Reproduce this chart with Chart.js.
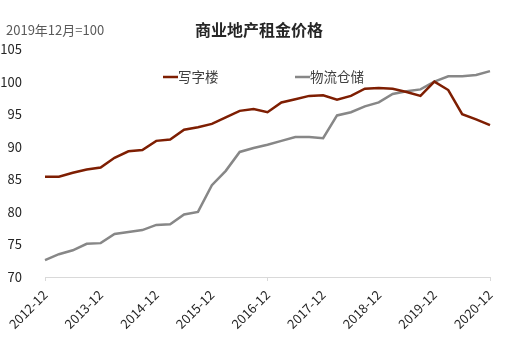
<!DOCTYPE html>
<html>
<head>
<meta charset="utf-8">
<script src="https://cdn.jsdelivr.net/npm/chart.js@4.4.0/dist/chart.umd.min.js"></script>
<style>
html,body{margin:0;padding:0;background:#fff;}
#wrap{position:relative;width:524px;height:346px;}
canvas{display:block;}
</style>
</head>
<body>
<div id="wrap"><canvas id="c" width="524" height="346"></canvas></div>
<script>
const categories = ["2012-12","2013-03","2013-06","2013-09","2013-12","2014-03","2014-06","2014-09","2014-12","2015-03","2015-06","2015-09","2015-12","2016-03","2016-06","2016-09","2016-12","2017-03","2017-06","2017-09","2017-12","2018-03","2018-06","2018-09","2018-12","2019-03","2019-06","2019-09","2019-12","2020-03","2020-06","2020-09","2020-12"];
const officeValues = [85.4,85.4,86.0,86.5,86.8,88.3,89.3,89.5,90.9,91.1,92.6,93.0,93.5,94.5,95.5,95.8,95.3,96.8,97.3,97.8,97.9,97.2,97.8,98.9,99.0,98.9,98.4,97.8,100.0,98.7,95.0,94.2,93.3];
const logisticsValues = [72.6,73.5,74.1,75.1,75.2,76.6,76.9,77.2,78.0,78.1,79.6,80.0,84.1,86.3,89.2,89.8,90.3,90.9,91.5,91.5,91.3,94.8,95.3,96.2,96.8,98.1,98.5,98.8,100.0,100.8,100.8,101.0,101.6];
const yTicks = [70,75,80,85,90,95,100,105];
const seriesNames = ["写字楼","物流仓储"];
const titleText = "商业地产租金价格";
const unitText = "2019年12月=100";

const FONT = "'Noto Sans CJK SC','Noto Sans',sans-serif";
const RED = "#7E1E02";
const GRAY = "#878787";

const overlay = {
  id: 'overlay',
  afterDraw(chart) {
    const ctx = chart.ctx;
    ctx.save();
    ctx.textBaseline = 'middle';
    ctx.font = "bold 16px " + FONT;
    ctx.fillStyle = "#262626";
    ctx.textAlign = 'center';
    ctx.fillText(titleText, 259, 30);
    ctx.font = "13px " + FONT;
    ctx.fillStyle = "#595959";
    ctx.textAlign = 'left';
    ctx.fillText(unitText, 6, 30);
    const items = [{x:163, color:RED, text:seriesNames[0]}, {x:295, color:GRAY, text:seriesNames[1]}];
    items.forEach(it => {
      ctx.strokeStyle = it.color;
      ctx.lineWidth = 2.5;
      ctx.beginPath();
      ctx.moveTo(it.x, 77);
      ctx.lineTo(it.x + 15, 77);
      ctx.stroke();
      ctx.font = "13.5px " + FONT;
      ctx.fillStyle = "#404040";
      ctx.fillText(it.text, it.x + 15, 77);
    });
    ctx.restore();
  }
};

new Chart(document.getElementById('c'), {
  type: 'line',
  data: {
    labels: categories,
    datasets: [
      {label: seriesNames[0], data: officeValues, borderColor: RED, borderWidth: 2.5, pointRadius: 0, tension: 0, fill: false},
      {label: seriesNames[1], data: logisticsValues, borderColor: GRAY, borderWidth: 2.5, pointRadius: 0, tension: 0, fill: false}
    ]
  },
  options: {
    responsive: false,
    animation: false,
    events: [],
    layout: {padding: {top: 49, right: 34, left: 0, bottom: 0}},
    plugins: {legend: {display: false}, title: {display: false}, tooltip: {enabled: false}},
    scales: {
      x: {
        type: 'category',
        offset: false,
        grid: {
          drawOnChartArea: false,
          drawTicks: true,
          tickLength: 4,
          color: (c) => (c.index % 4 === 0 ? '#d9d9d9' : 'rgba(0,0,0,0)')
        },
        border: {display: true, color: '#d9d9d9', width: 1},
        ticks: {
          autoSkip: false,
          maxRotation: 45,
          minRotation: 45,
          padding: 6,
          color: '#262626',
          font: {family: FONT, size: 13},
          callback: function(v, i) { return i % 4 === 0 ? categories[i] : null; }
        },
        afterFit: (s) => { s.height = 69; }
      },
      y: {
        min: 70,
        max: 105,
        afterBuildTicks: (s) => { s.ticks = yTicks.map(v => ({value: v})); },
        grid: {display: false},
        border: {display: false},
        ticks: {
          padding: 15,
          color: '#262626',
          font: {family: FONT, size: 13}
        },
        afterFit: (s) => { s.width = 45; }
      }
    }
  },
  plugins: [overlay]
});
</script>
</body>
</html>
